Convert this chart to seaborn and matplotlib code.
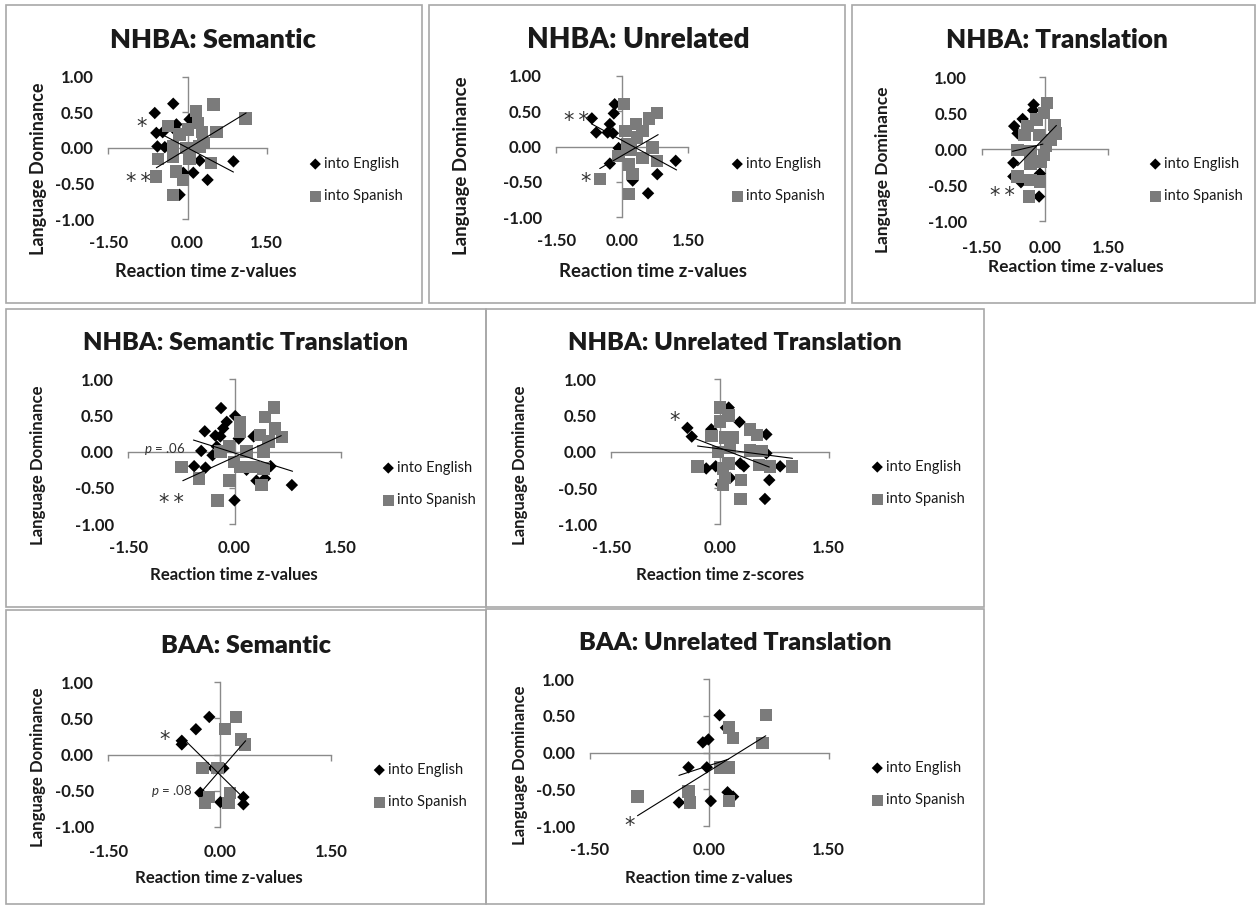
import matplotlib
matplotlib.use("Agg")
import matplotlib.pyplot as plt
from matplotlib.patches import Rectangle
import numpy as np
import pandas as pd
import seaborn as sns

# ---------------- data ----------------
titles = ["NHBA: Semantic", "NHBA: Unrelated", "NHBA: Translation",
          "NHBA: Semantic Translation", "NHBA: Unrelated Translation",
          "BAA: Semantic", "BAA: Unrelated Translation"]
x_titles = ["Reaction time z-values", "Reaction time z-values", "Reaction time z-values",
            "Reaction time z-values", "Reaction time z-scores",
            "Reaction time z-values", "Reaction time z-values"]
y_title = "Language Dominance"
series_labels = ["into English", "into Spanish"]
x_ticks = [-1.5, 0.0, 1.5]
y_ticks = [-1.0, -0.5, 0.0, 0.5, 1.0]
x_tick_labels = ["-1.50", "0.00", "1.50"]
y_tick_labels = ["-1.00", "-0.50", "0.00", "0.50", "1.00"]

# NHBA: Semantic
sem_en_x = [-0.62, -0.27, -0.21, 0.04, -0.59, -0.47, -0.21, -0.15, -0.57, -0.43, 0.23, 0.11, 0.38, 0.87, -0.15, -0.08]
sem_en_y = [0.49, 0.62, 0.33, 0.40, 0.21, 0.22, 0.23, 0.21, 0.02, 0.01, -0.18, -0.35, -0.45, -0.19, -0.66, -0.35]
sem_es_x = [0.49, 0.16, 1.10, -0.37, 0.20, 0.01, -0.15, 0.27, 0.55, 0.30, -0.27, -0.02, -0.56, -0.27, 0.04, 0.44, -0.22, -0.60, -0.09, -0.27, 0.23]
sem_es_y = [0.61, 0.52, 0.41, 0.31, 0.35, 0.26, 0.19, 0.22, 0.22, 0.07, 0.02, 0.00, -0.16, -0.12, -0.16, -0.21, -0.33, -0.40, -0.45, -0.66, 0.02]
sem_trend_en = [(-0.59, 0.23), (0.87, -0.34)]
sem_trend_es = [(-0.59, -0.28), (1.11, 0.49)]
sem_notes = [("*", -0.87, 0.37), ("*\u2009*", -0.93, -0.40)]

# NHBA: Unrelated
unr_en_x = [-0.17, -0.19, -0.69, -0.28, -0.59, -0.33, -0.21, -0.08, -0.28, 1.22, 0.80, 0.59, 0.24]
unr_en_y = [0.60, 0.47, 0.40, 0.32, 0.20, 0.20, 0.19, -0.02, -0.24, -0.20, -0.39, -0.66, -0.48]
unr_es_x = [0.04, 0.80, 0.61, 0.31, 0.08, 0.46, 0.34, 0.19, 0.69, 0.46, -0.08, 0.15, 0.80, 0.24, -0.50, 0.15, 0.11]
unr_es_y = [0.60, 0.48, 0.40, 0.32, 0.22, 0.22, 0.13, -0.04, -0.01, -0.16, -0.13, -0.25, -0.20, -0.39, -0.46, -0.67, 0.03]
unr_trend_en = [(-0.69, 0.32), (1.24, -0.33)]
unr_trend_es = [(-0.51, -0.31), (0.82, 0.17)]
unr_notes = [("*\u2009*", -1.03, 0.44), ("*", -0.84, -0.42)]

# NHBA: Translation
tra_en_x = [-0.27, -0.53, -0.73, -0.65, -0.75, -0.75, -0.57, -0.12, -0.14, -0.28]
tra_en_y = [0.62, 0.42, 0.32, 0.22, -0.19, -0.38, -0.46, -0.34, -0.66, 0.54]
tra_es_x = [0.05, -0.02, -0.20, -0.41, 0.23, 0.25, -0.14, -0.65, -0.34, 0.02, -0.02, -0.34, -0.10, -0.65, -0.34, -0.12, -0.38, -0.49, 0.13]
tra_es_y = [0.64, 0.50, 0.41, 0.32, 0.34, 0.22, 0.20, -0.01, -0.03, 0.04, -0.08, -0.20, -0.17, -0.38, -0.43, -0.45, -0.66, 0.20, 0.13]
tra_trend_en = [(-0.77, -0.03), (-0.05, 0.07)]
tra_trend_es = [(-0.65, -0.23), (0.27, 0.33)]
tra_notes = [("*\u2009*", -1.0, -0.58)]

# NHBA: Semantic Translation
str_en_x = [-0.19, 0.01, -0.11, -0.16, -0.42, -0.27, -0.20, 0.06, 0.27, -0.25, -0.47, -0.31, -0.57, -0.41, 0.17, 0.51, 0.31, 0.43, 0.81, 0.00]
str_en_y = [0.60, 0.49, 0.41, 0.32, 0.28, 0.22, 0.21, 0.18, 0.21, 0.07, 0.01, -0.05, -0.20, -0.22, -0.25, -0.20, -0.40, -0.37, -0.46, -0.67]
str_es_x = [0.56, 0.43, 0.08, 0.08, 0.36, 0.57, 0.67, 0.48, -0.20, -0.08, 0.17, 0.41, -0.01, 0.17, 0.27, 0.41, -0.75, -0.50, -0.07, 0.38, -0.24, 0.08]
str_es_y = [0.61, 0.48, 0.41, 0.28, 0.23, 0.32, 0.20, 0.14, 0.00, 0.07, 0.00, 0.00, -0.14, -0.21, -0.21, -0.23, -0.21, -0.37, -0.40, -0.46, -0.67, -0.21]
str_trend_en = [(-0.58, 0.16), (0.82, -0.27)]
str_trend_es = [(-0.73, -0.40), (0.66, 0.22)]
str_notes = [("$p$ = .06", -0.98, 0.04), ("*\u2009*", -0.89, -0.63)]

# NHBA: Unrelated Translation
utr_en_x = [0.12, 0.27, -0.45, -0.39, -0.12, 0.64, 0.64, -0.19, -0.06, 0.28, 0.33, 0.83, 0.14, 0.68, 0.62, 0.01]
utr_en_y = [0.61, 0.41, 0.33, 0.21, 0.31, 0.24, -0.02, -0.23, -0.20, -0.16, -0.20, -0.20, -0.36, -0.39, -0.65, -0.45]
utr_es_x = [0.00, 0.12, 0.00, 0.41, 0.51, -0.12, 0.07, 0.17, 0.14, -0.03, 0.41, 0.58, -0.31, 0.12, 0.54, 0.69, 0.99, 0.04, 0.07, 0.29, 0.04, 0.28]
utr_es_y = [0.61, 0.50, 0.42, 0.31, 0.23, 0.22, 0.20, 0.20, 0.06, 0.00, 0.02, 0.01, -0.20, -0.16, -0.18, -0.20, -0.20, -0.23, -0.36, -0.39, -0.46, -0.65]
utr_trend_en = [(-0.39, 0.20), (0.68, -0.21)]
utr_trend_es = [(-0.31, 0.08), (1.00, -0.09)]
utr_notes = [("*", -0.62, 0.50)]

# BAA: Semantic
bse_en_x = [-0.14, -0.32, -0.51, -0.51, -0.08, 0.05, -0.26, 0.32, 0.32, 0.01]
bse_en_y = [0.52, 0.35, 0.19, 0.14, -0.19, -0.19, -0.53, -0.59, -0.69, -0.66]
bse_es_x = [0.22, 0.07, 0.29, 0.34, -0.23, -0.03, -0.14, -0.20, 0.14, 0.12]
bse_es_y = [0.52, 0.35, 0.21, 0.14, -0.19, -0.19, -0.59, -0.67, -0.53, -0.67]
bse_trend_en = [(-0.51, 0.24), (0.32, -0.60)]
bse_trend_es = [(-0.24, -0.51), (0.35, 0.19)]
bse_notes = [("*", -0.74, 0.28), ("$p$ = .08", -0.64, -0.50)]

# BAA: Unrelated Translation
but_en_x = [0.13, 0.21, -0.01, -0.08, -0.26, -0.03, 0.23, 0.30, -0.38, 0.02]
but_en_y = [0.51, 0.34, 0.18, 0.14, -0.20, -0.20, -0.54, -0.60, -0.68, -0.66]
but_es_x = [0.71, 0.25, 0.30, 0.67, 0.14, 0.24, -0.90, -0.26, -0.24, 0.25]
but_es_y = [0.51, 0.34, 0.20, 0.13, -0.20, -0.20, -0.60, -0.53, -0.68, -0.66]
but_trend_en = [(-0.38, -0.31), (0.24, -0.09)]
but_trend_es = [(-0.90, -0.86), (0.71, 0.23)]
but_notes = [("*", -1.0, -0.93)]

panels_data = [
    (sem_en_x, sem_en_y, sem_es_x, sem_es_y, sem_trend_en, sem_trend_es, sem_notes),
    (unr_en_x, unr_en_y, unr_es_x, unr_es_y, unr_trend_en, unr_trend_es, unr_notes),
    (tra_en_x, tra_en_y, tra_es_x, tra_es_y, tra_trend_en, tra_trend_es, tra_notes),
    (str_en_x, str_en_y, str_es_x, str_es_y, str_trend_en, str_trend_es, str_notes),
    (utr_en_x, utr_en_y, utr_es_x, utr_es_y, utr_trend_en, utr_trend_es, utr_notes),
    (bse_en_x, bse_en_y, bse_es_x, bse_es_y, bse_trend_en, bse_trend_es, bse_notes),
    (but_en_x, but_en_y, but_es_x, but_es_y, but_trend_en, but_trend_es, but_notes),
]

# ---------------- layout (pixels, y from top) ----------------
W, H, DPI = 1258, 905, 100
frames = [(6, 5, 422, 303), (429, 5, 845, 303), (852, 5, 1255, 303),
          (6, 309, 486, 607), (486, 309, 984, 607),
          (6, 610, 486, 904), (486, 609, 984, 904)]
plot_boxes = [(108.3, 76.7, 266.7, 219.0), (556.3, 76.0, 688.0, 217.3), (981.7, 77.3, 1108.3, 221.0),
              (128.3, 379.0, 340.7, 524.3), (611.3, 379.3, 828.7, 524.3),
              (108.3, 682.3, 331.0, 826.7), (589.7, 679.3, 828.7, 826.0)]
title_pos = [(213, 48), (638, 48), (1057, 48), (246, 350), (735, 350), (246, 653), (735, 650)]
xlab_pos = [(206, 277), (653, 277), (1076, 272), (234, 580), (720, 580), (219, 883), (709, 883)]
ylab_pos = [(38, 169), (461, 166), (883, 170), (38, 465), (520, 465), (38, 767), (520, 765)]
legend_pos = [(308, 180), (730, 180), (1148, 180), (381, 484), (870, 483), (372, 786), (870, 784)]
xtick_pad = [11.5, 11.5, 14.0, 11.5, 11.5, 12.5, 11.5]
font_scale = [1.0, 1.03, 0.96, 0.93, 0.93, 0.93, 0.93]

TEXT = "#1a1a1a"
AXIS = "#8a8a8a"
GRAY = "#7b7b7b"

sns.set_style("white")
plt.rcParams['font.family'] = ['Lato', 'DejaVu Sans']
plt.rcParams['mathtext.fontset'] = 'custom'
plt.rcParams['mathtext.it'] = 'Lato:italic'
plt.rcParams['mathtext.rm'] = 'Lato'

fig = plt.figure(figsize=(W / DPI, H / DPI), dpi=DPI)
fig.patch.set_facecolor("white")

for (fx0, fy0, fx1, fy1) in frames:
    fig.add_artist(Rectangle((fx0 / W, 1 - fy1 / H), (fx1 - fx0) / W, (fy1 - fy0) / H,
                             transform=fig.transFigure, fill=False,
                             edgecolor="#a8a8a8", linewidth=1.2))

for i, (ex, ey, sx, sy, ten, tes, notes) in enumerate(panels_data):
    L, T, R, B = plot_boxes[i]
    fs = font_scale[i]
    ax = fig.add_axes([L / W, 1 - B / H, (R - L) / W, (B - T) / H])
    ax.set_facecolor("none")

    def to_ax(px, py):
        return (px - L) / (R - L), (B - py) / (B - T)

    df_en = pd.DataFrame({"x": ex, "y": ey})
    df_es = pd.DataFrame({"x": sx, "y": sy})
    sns.scatterplot(data=df_en, x="x", y="y", marker="D", color="black", s=40,
                    edgecolor="none", linewidth=0, ax=ax, label=series_labels[0], zorder=3)
    sns.scatterplot(data=df_es, x="x", y="y", marker="s", color=GRAY, s=80,
                    edgecolor="none", linewidth=0, ax=ax, label=series_labels[1], zorder=4)
    for tr in (ten, tes):
        dtr = pd.DataFrame({"x": [tr[0][0], tr[1][0]], "y": [tr[0][1], tr[1][1]]})
        sns.lineplot(data=dtr, x="x", y="y", color="black", linewidth=0.8,
                     estimator=None, sort=False, ax=ax, zorder=5, legend=False)

    ax.set_xlim(-1.5, 1.5)
    ax.set_ylim(-1.0, 1.0)
    ax.set_xticks(x_ticks)
    ax.set_xticklabels(x_tick_labels)
    ax.set_yticks(y_ticks)
    ax.set_yticklabels(y_tick_labels)
    ax.tick_params(axis="both", length=0, labelsize=12, labelcolor=TEXT)
    ax.tick_params(axis="x", pad=xtick_pad[i])
    ax.tick_params(axis="y", pad=10.5)
    for lab in ax.get_xticklabels() + ax.get_yticklabels():
        lab.set_fontweight("bold")
    for sp in ax.spines.values():
        sp.set_visible(False)

    # crossing axis lines at zero
    secx = ax.secondary_xaxis(0.5)
    secx.set_alignment("bottom")
    secx.set_xticks(x_ticks)
    secx.tick_params(axis="x", direction="out", length=4, width=1, color=AXIS, labelbottom=False, labeltop=False)
    secx.spines["bottom"].set_color(AXIS)
    secx.spines["bottom"].set_linewidth(1)
    secx.set_zorder(0.5)
    secy = ax.secondary_yaxis(0.5)
    secy.set_alignment("left")
    secy.set_yticks(y_ticks)
    secy.tick_params(axis="y", direction="out", length=4, width=1, color=AXIS, labelleft=False, labelright=False)
    secy.spines["left"].set_color(AXIS)
    secy.spines["left"].set_linewidth(1)
    secy.set_zorder(0.5)

    # title and axis titles
    tx, ty = to_ax(*title_pos[i])
    ax.set_title(titles[i], x=tx, y=ty, va="baseline", ha="center", pad=0,
                 fontsize=19.5 * fs, fontweight="heavy", color=TEXT)
    ax.set_xlabel(x_titles[i], fontsize=13 * fs, fontweight="bold", color=TEXT)
    ax.xaxis.label.set_va("baseline")
    ax.xaxis.set_label_coords(*to_ax(*xlab_pos[i]))
    ax.set_ylabel(y_title, fontsize=13 * fs, fontweight="bold", color=TEXT)
    ax.yaxis.label.set_va("center")
    ax.yaxis.set_label_coords(*to_ax(*ylab_pos[i]))

    for s, nx, ny in notes:
        if s.startswith("$"):
            ax.text(nx, ny, s, fontsize=9.5, ha="center", va="center", color="#333333")
        else:
            ax.annotate(s, (nx, ny), xytext=(0, -4), textcoords="offset points",
                        fontsize=15, ha="center", va="center", color="#333333",
                        family=["DejaVu Sans"])

    lx, ly = legend_pos[i]
    ax.legend(loc="center left", bbox_to_anchor=(lx / W, 1 - ly / H), bbox_transform=fig.transFigure,
              frameon=False, fontsize=10.5, handletextpad=0.1, labelspacing=1.25,
              borderpad=0, borderaxespad=0, handlelength=1.0, markerscale=0.9,
              labelcolor=TEXT)

fig.savefig("out.png", dpi=DPI, facecolor="white")
